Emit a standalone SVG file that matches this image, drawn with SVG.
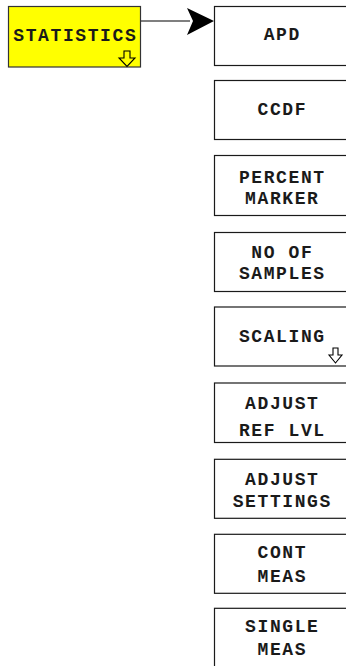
<svg xmlns="http://www.w3.org/2000/svg" width="346" height="666" viewBox="0 0 346 666">
<style>
.box{fill:#ffffff;stroke:#1a1a1a;stroke-width:1.2}
.sel{fill:#ffff00;stroke:#333333;stroke-width:1.2}
.t{font-family:"Liberation Mono","DejaVu Sans Mono",monospace;font-weight:bold;font-size:18px;letter-spacing:1.6px;fill:#1a1a1a;text-anchor:middle}
.da{fill:none;stroke:#000000;stroke-width:1.1;stroke-linejoin:miter}
.conn{stroke:#000000;stroke-width:1.2;fill:none}
</style>
<rect x="0" y="0" width="346" height="666" fill="#ffffff"/>
<g id="statistics">
<rect class="sel" x="8.5" y="6.5" width="132" height="60.5"/>
<text class="t" x="75.3" y="40.5">STATISTICS</text>
<path class="da" d="M124,51 H130 V58 H135 L127,66.5 L119,58 H124 Z"/>
</g>
<g id="connectors">
<line class="conn" x1="141" y1="21" x2="190" y2="21"/>
<polygon points="214,21 187,8 193,21 187,35" fill="#000000"/>
</g>
<g id="apd">
<rect class="box" x="214.5" y="6.5" width="140" height="59"/>
<text class="t" x="282.3" y="39.5">APD</text>
</g>
<g id="ccdf">
<rect class="box" x="214.5" y="80.5" width="140" height="59"/>
<text class="t" x="282.3" y="115">CCDF</text>
</g>
<g id="percent-marker">
<rect class="box" x="214.5" y="155.5" width="140" height="60"/>
<text class="t" x="282.3" y="182.8">PERCENT</text>
<text class="t" x="282.3" y="203.5">MARKER</text>
</g>
<g id="no-of-samples">
<rect class="box" x="214.5" y="232.5" width="140" height="59"/>
<text class="t" x="282.3" y="257.8">NO OF</text>
<text class="t" x="282.3" y="279">SAMPLES</text>
</g>
<g id="scaling">
<rect class="box" x="214.5" y="307" width="140" height="59"/>
<text class="t" x="282.3" y="341.5">SCALING</text>
<path class="da" d="M333,348 H338 V355 H342 L335.5,363 L329,355 H333 Z"/>
</g>
<g id="adjust-ref-lvl">
<rect class="box" x="214.5" y="383" width="140" height="59.5"/>
<text class="t" x="282.3" y="409.3">ADJUST</text>
<text class="t" x="282.3" y="436">REF LVL</text>
</g>
<g id="adjust-settings">
<rect class="box" x="214.5" y="459.3" width="140" height="59"/>
<text class="t" x="282.3" y="485">ADJUST</text>
<text class="t" x="282.3" y="506.7">SETTINGS</text>
</g>
<g id="cont-meas">
<rect class="box" x="214.5" y="534.3" width="140" height="59"/>
<text class="t" x="282.3" y="558.3">CONT</text>
<text class="t" x="282.3" y="581.7">MEAS</text>
</g>
<g id="single-meas">
<rect class="box" x="214.5" y="608.3" width="140" height="59"/>
<text class="t" x="282.3" y="631.7">SINGLE</text>
<text class="t" x="282.3" y="655">MEAS</text>
</g>
</svg>
